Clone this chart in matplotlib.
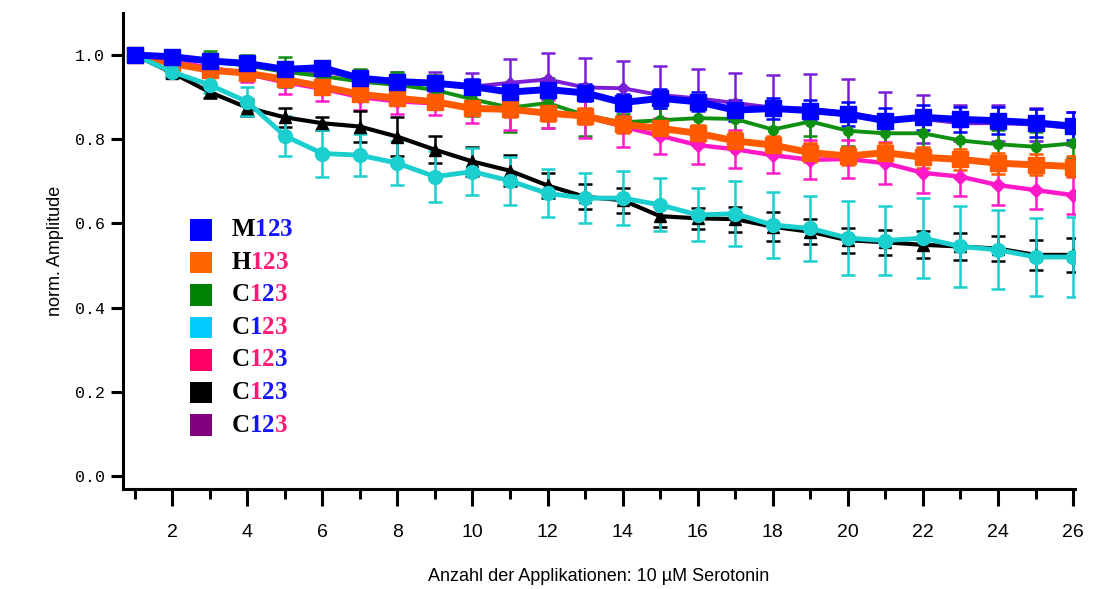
import matplotlib

matplotlib.use("Agg")
import matplotlib.pyplot as plt
from matplotlib.patches import Rectangle
from matplotlib.ticker import MultipleLocator

# Anzahl der Applikationen
x = list(range(1, 27))

# Mittelwerte (normierte Amplitude)
m_blue = [1.0, 0.996, 0.986, 0.98, 0.966, 0.97, 0.945, 0.937, 0.933, 0.925, 0.912, 0.918, 0.91,
          0.887, 0.897, 0.889, 0.869, 0.873, 0.868, 0.86, 0.844, 0.852, 0.847, 0.844, 0.839, 0.831]
h_orange = [1.0, 0.98, 0.964, 0.957, 0.942, 0.925, 0.907, 0.897, 0.889, 0.873, 0.871, 0.862, 0.855,
            0.835, 0.826, 0.814, 0.796, 0.786, 0.768, 0.76, 0.768, 0.757, 0.752, 0.743, 0.739, 0.735]
c_green = [1.0, 0.99, 0.985, 0.975, 0.96, 0.95, 0.937, 0.929, 0.917, 0.895, 0.875, 0.886, 0.857,
           0.84, 0.845, 0.85, 0.848, 0.823, 0.842, 0.82, 0.814, 0.814, 0.797, 0.788, 0.782, 0.79]
c_cyan = [1.0, 0.96, 0.929, 0.889, 0.808, 0.766, 0.762, 0.743, 0.711, 0.723, 0.701, 0.671, 0.66,
          0.66, 0.644, 0.62, 0.623, 0.596, 0.588, 0.565, 0.559, 0.565, 0.545, 0.537, 0.52, 0.52]
c_magenta = [1.0, 0.985, 0.97, 0.955, 0.935, 0.92, 0.9, 0.89, 0.885, 0.875, 0.87, 0.86, 0.855,
             0.83, 0.808, 0.786, 0.776, 0.762, 0.751, 0.753, 0.743, 0.72, 0.711, 0.691, 0.679, 0.667]
c_black = [1.0, 0.958, 0.912, 0.875, 0.852, 0.838, 0.83, 0.806, 0.775, 0.747, 0.725, 0.69, 0.663,
           0.655, 0.617, 0.612, 0.61, 0.592, 0.58, 0.56, 0.555, 0.549, 0.545, 0.54, 0.525, 0.525]
c_purple = [1.0, 0.995, 0.985, 0.978, 0.962, 0.962, 0.945, 0.94, 0.932, 0.925, 0.934, 0.942, 0.923,
            0.921, 0.905, 0.897, 0.886, 0.875, 0.872, 0.862, 0.848, 0.848, 0.838, 0.838, 0.835, 0.826]

# Fehlerbalken
e_blue = [0, 0.005, 0.008, 0.01, 0.01, 0.012, 0.015, 0.015, 0.015, 0.018, 0.02, 0.02, 0.02,
          0.02, 0.022, 0.022, 0.025, 0.025, 0.025, 0.028, 0.03, 0.03, 0.03, 0.032, 0.033, 0.033]
e_orange = [0, 0.008, 0.01, 0.012, 0.012, 0.015, 0.015, 0.015, 0.015, 0.015, 0.018, 0.018, 0.018,
            0.02, 0.02, 0.02, 0.02, 0.022, 0.022, 0.022, 0.022, 0.025, 0.025, 0.025, 0.025, 0.025]
e_green = [0, 0.015, 0.025, 0.025, 0.035, 0.03, 0.03, 0.03, 0.035, 0.04, 0.057, 0.06, 0.05,
           0.02, 0.03, 0.03, 0.035, 0.035, 0.035, 0.035, 0.035, 0.035, 0.035, 0.035, 0.035, 0.035]
e_cyan = [0, 0.015, 0.02, 0.034, 0.048, 0.055, 0.05, 0.052, 0.06, 0.056, 0.057, 0.057, 0.059,
          0.065, 0.063, 0.063, 0.077, 0.079, 0.078, 0.087, 0.082, 0.096, 0.097, 0.094, 0.093, 0.095]
e_magenta = [0, 0.01, 0.02, 0.02, 0.027, 0.03, 0.03, 0.03, 0.028, 0.037, 0.048, 0.034, 0.053,
             0.048, 0.043, 0.045, 0.045, 0.043, 0.046, 0.046, 0.05, 0.047, 0.047, 0.047, 0.045, 0.045]
e_black = [0, 0.01, 0.015, 0.02, 0.023, 0.015, 0.037, 0.046, 0.032, 0.035, 0.037, 0.03, 0.03,
           0.03, 0.025, 0.025, 0.03, 0.035, 0.03, 0.03, 0.03, 0.032, 0.032, 0.03, 0.035, 0.04]
e_purple = [0, 0.005, 0.01, 0.015, 0.015, 0.015, 0.02, 0.02, 0.028, 0.032, 0.056, 0.064, 0.07,
            0.066, 0.07, 0.07, 0.072, 0.077, 0.083, 0.08, 0.065, 0.057, 0.043, 0.043, 0.04, 0.039]

# Legende: Buchstabe + Ziffernfarben
BLUE_TXT = "#1414ff"
PINK_TXT = "#ff1a75"
legend_rows = [
    ("#0000ff", "M", [BLUE_TXT, BLUE_TXT, BLUE_TXT]),
    ("#ff6600", "H", [PINK_TXT, PINK_TXT, PINK_TXT]),
    ("#008000", "C", [PINK_TXT, BLUE_TXT, PINK_TXT]),
    ("#00ccff", "C", [BLUE_TXT, PINK_TXT, PINK_TXT]),
    ("#ff0066", "C", [PINK_TXT, PINK_TXT, BLUE_TXT]),
    ("#000000", "C", [PINK_TXT, BLUE_TXT, BLUE_TXT]),
    ("#800080", "C", [BLUE_TXT, BLUE_TXT, PINK_TXT]),
]

fig = plt.figure(figsize=(10.93, 5.89), dpi=100)
ax = fig.add_axes([0.1125, 0.170, 0.871, 0.808])

# Reihenfolge: hinten zuerst
series = [
    (c_purple, e_purple, "#7b1fd6", "D", 6, 2.8),
    (c_green, e_green, "#109010", "o", 7, 2.8),
    (c_magenta, e_magenta, "#ff19c8", "D", 7, 3.2),
    (h_orange, e_orange, "#ff5a00", "s", 11, 5.0),
    (c_black, e_black, "#000000", "^", 8, 3.0),
    (c_cyan, e_cyan, "#1ccfcf", "o", 10, 3.5),
    (m_blue, e_blue, "#0000ff", "s", 11, 5.0),
]
for y, e, col, mk, ms, lw in series:
    ax.errorbar(x, y, yerr=e, color=col, marker=mk, markersize=ms, linewidth=lw,
                elinewidth=1.8, capsize=5, capthick=1.8)

ax.set_xlim(0.69, 26.05)
ax.set_ylim(-0.031, 1.10)
for s in ["top", "right"]:
    ax.spines[s].set_visible(False)
for s in ["left", "bottom"]:
    ax.spines[s].set_linewidth(2.2)

ax.xaxis.set_major_locator(MultipleLocator(2))
ax.xaxis.set_minor_locator(MultipleLocator(1))
ax.set_yticks([0.0, 0.2, 0.4, 0.6, 0.8, 1.0])
ax.set_yticklabels(["0.0", "0.2", "0.4", "0.6", "0.8", "1.0"],
                   family=["Liberation Mono", "DejaVu Sans Mono"], fontsize=12)
ax.tick_params(axis="y", direction="out", length=9, width=2.2, pad=4)
ax.tick_params(axis="x", which="major", direction="out", length=12, width=2.2, pad=13,
               labelsize=14)
ax.tick_params(axis="x", which="minor", direction="out", length=7, width=2.2)
for lbl in ax.get_xticklabels():
    lbl.set_family(["Liberation Sans Narrow", "Liberation Sans", "DejaVu Sans"])

ax.set_ylabel("norm. Amplitude", family=["Liberation Sans", "DejaVu Sans"], fontsize=13,
              labelpad=8)
ax.set_xlabel("Anzahl der Applikationen: 10 µM Serotonin",
              family=["Liberation Sans", "DejaVu Sans"], fontsize=13, labelpad=20)

# Legende von Hand
y0 = 0.544
dy = 0.0683
for i, (sq, letter, digit_cols) in enumerate(legend_rows):
    yy = y0 - i * dy
    ax.add_patch(Rectangle((0.07, yy - 0.023), 0.024, 0.046, transform=ax.transAxes,
                           facecolor=sq, edgecolor="none", clip_on=False))
    t = ax.text(0.114, yy, letter, transform=ax.transAxes, va="center", ha="left",
                family=["Liberation Serif", "DejaVu Serif"], weight="bold", fontsize=18,
                color="black")
    for d, c in zip("123", digit_cols):
        t = ax.annotate(d, xy=(1, 0), xycoords=t, va="bottom", ha="left",
                        family=["Liberation Serif", "DejaVu Serif"], weight="bold",
                        fontsize=18, color=c)

fig.savefig("out.png", dpi=100)
